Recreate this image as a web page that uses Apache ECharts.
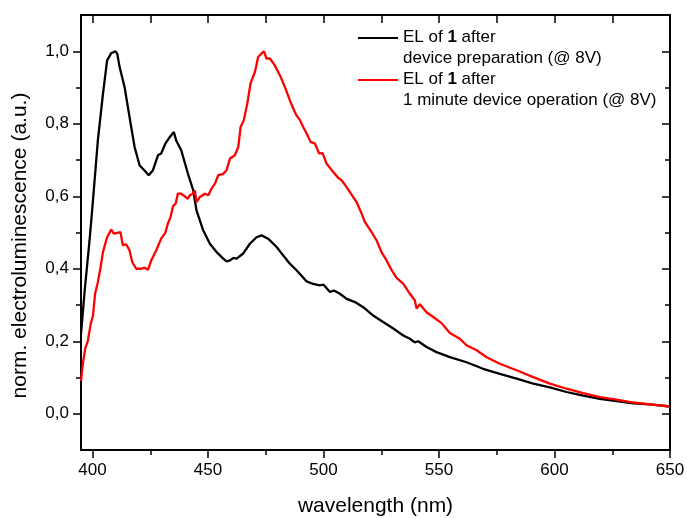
<!DOCTYPE html>
<html>
<head>
<meta charset="utf-8">
<script src="https://cdn.jsdelivr.net/npm/echarts@6/dist/echarts.min.js"></script>
<style>
  html, body { margin: 0; padding: 0; background: #fff; }
  #chart { width: 687px; height: 518px; }
</style>
</head>
<body>
<div id="chart"></div>
<script>
// wavelength (nm) / normalised EL
const blackWl = [395, 396.6, 398.7, 400.2, 402.3, 404.5, 406.3, 408.1, 410, 410.7, 411.7, 413.9, 416, 418.2, 420.4, 422.5, 424.3, 426.1, 428.3, 429.7, 431.5, 433.4, 435.2, 436.2, 438.4, 441.3, 443.6, 445, 447.9, 450.8, 453.7, 456.6, 458, 459.5, 461, 462.4, 465.2, 468.1, 471, 473.2, 476, 479.7, 482.5, 485.4, 488.3, 490, 492.7, 495.5, 498.4, 500, 502.8, 504.5, 507.1, 510, 513.6, 517.2, 521.5, 525.8, 530.2, 534.5, 537.4, 539.5, 541, 544.6, 548.9, 554.7, 561.9, 569.1, 576.3, 583.6, 590.8, 598, 605.2, 612.4, 619.6, 626.9, 634.1, 641.3, 650];
const blackEl = [0.22, 0.34, 0.478, 0.59, 0.754, 0.882, 0.975, 0.995, 1.0, 0.993, 0.957, 0.9, 0.819, 0.736, 0.685, 0.671, 0.658, 0.671, 0.713, 0.718, 0.745, 0.763, 0.777, 0.754, 0.727, 0.662, 0.616, 0.561, 0.506, 0.469, 0.446, 0.428, 0.42, 0.423, 0.43, 0.428, 0.442, 0.469, 0.487, 0.492, 0.483, 0.46, 0.437, 0.414, 0.396, 0.384, 0.365, 0.358, 0.354, 0.356, 0.336, 0.34, 0.331, 0.317, 0.308, 0.294, 0.271, 0.253, 0.235, 0.216, 0.207, 0.197, 0.2, 0.184, 0.17, 0.156, 0.142, 0.124, 0.11, 0.097, 0.083, 0.073, 0.06, 0.05, 0.041, 0.035, 0.029, 0.026, 0.02];

const redWl = [395, 395.8, 396.8, 398, 399.2, 400.2, 401.1, 402.3, 403.5, 404.5, 405.2, 406.3, 408.1, 409.2, 412.1, 413.1, 414.6, 416, 417.2, 418.9, 421.1, 422.5, 424, 425.4, 427.6, 429.7, 431.5, 432.6, 433.8, 434.8, 436, 436.9, 438.4, 441.3, 442.1, 443.4, 444.3, 445, 446.5, 448.6, 450.1, 451.5, 453, 454.4, 456.6, 458, 459.5, 461.6, 463.1, 464.1, 465.5, 467, 468.4, 470.3, 471.7, 473.2, 474.2, 475.3, 476.8, 478.9, 481.1, 483.3, 485.4, 486.9, 488.3, 489.8, 491.2, 492.7, 494.4, 496.3, 498.1, 499.6, 501.3, 504.2, 506.3, 507.8, 510, 512.1, 514.3, 516.5, 517.9, 520.8, 523, 525.1, 527.3, 529.5, 531.6, 534.5, 537.4, 539.5, 540.3, 541.7, 544.6, 547.5, 551.1, 554.7, 559, 561.9, 566.3, 570.6, 576.3, 583.6, 590.8, 598, 605.2, 612.4, 619.6, 626.9, 634.1, 641.3, 650];
const redEl = [0.09, 0.138, 0.179, 0.202, 0.248, 0.271, 0.331, 0.363, 0.405, 0.446, 0.451, 0.487, 0.508, 0.497, 0.501, 0.465, 0.467, 0.451, 0.418, 0.4, 0.4, 0.403, 0.397, 0.423, 0.451, 0.483, 0.499, 0.524, 0.543, 0.572, 0.58, 0.607, 0.607, 0.593, 0.603, 0.607, 0.616, 0.584, 0.598, 0.607, 0.603, 0.621, 0.635, 0.658, 0.662, 0.672, 0.704, 0.713, 0.736, 0.791, 0.81, 0.856, 0.911, 0.943, 0.984, 0.994, 1.0, 0.98, 0.98, 0.961, 0.934, 0.901, 0.865, 0.842, 0.823, 0.81, 0.791, 0.773, 0.75, 0.745, 0.718, 0.719, 0.69, 0.667, 0.651, 0.644, 0.625, 0.605, 0.584, 0.552, 0.529, 0.501, 0.478, 0.446, 0.423, 0.396, 0.375, 0.359, 0.331, 0.313, 0.29, 0.302, 0.28, 0.267, 0.25, 0.223, 0.207, 0.189, 0.175, 0.156, 0.138, 0.12, 0.101, 0.083, 0.069, 0.057, 0.046, 0.039, 0.031, 0.026, 0.02];

const xMajor = [400, 450, 500, 550, 600, 650];
const xMinor = [425, 475, 525, 575, 625];
const xTop = [400, 425, 450, 475, 500, 525, 550, 575, 600, 625, 650];
const yMajor = [0, 0.2, 0.4, 0.6, 0.8, 1.0];
const yMinor = [0.1, 0.3, 0.5, 0.7, 0.9];

const seriesNames = ['EL of 1 after device preparation (@ 8V)', 'EL of 1 after 1 minute device operation (@ 8V)'];
const legendLabels = ['EL of {b|1} after\ndevice preparation (@ 8V)', 'EL of {b|1} after\n1 minute device operation (@ 8V)'];

const font = "'Liberation Sans', Arial, sans-serif";
const zip = (a, b) => a.map((v, i) => [v, b[i]]);

const chart = echarts.init(document.getElementById('chart'));

const frameLine = { show: true, onZero: false, lineStyle: { color: '#000', width: 2 } };

function xAx(pos, ticks, len, inside, extra) {
  return Object.assign({
    type: 'value', position: pos, min: 395, max: 650,
    axisLine: { show: false, onZero: false },
    axisTick: { show: true, customValues: ticks, length: len, inside: inside, lineStyle: { color: '#000', width: 1.5 } },
    axisLabel: { show: false },
    splitLine: { show: false }
  }, extra || {});
}
function yAx(pos, ticks, len, inside, extra) {
  return Object.assign({
    type: 'value', position: pos, min: -0.1, max: 1.1,
    axisLine: { show: false, onZero: false },
    axisTick: { show: true, customValues: ticks, length: len, inside: inside, lineStyle: { color: '#000', width: 1.5 } },
    axisLabel: { show: false },
    splitLine: { show: false }
  }, extra || {});
}

const option = {
  animation: false,
  backgroundColor: '#fff',
  textStyle: { fontFamily: font, color: '#000' },
  grid: { left: 81, right: 17, top: 15, bottom: 68, outerBoundsMode: 'none' },
  legend: {
    orient: 'vertical', left: 358, top: 27, padding: 0,
    itemWidth: 40, itemHeight: 22, itemGap: 0,
    icon: 'path://M0,0h40v2h-40z M0,21.8h0.01v0.01z',
    itemStyle: { borderWidth: 0 },
    data: seriesNames,
    formatter: name => legendLabels[seriesNames.indexOf(name)],
    textStyle: {
      fontFamily: font, fontSize: 17, lineHeight: 21, color: '#000',
      rich: { b: { fontFamily: font, fontSize: 17, lineHeight: 21, fontWeight: 'bold', color: '#000' } }
    }
  },
  xAxis: [
    xAx('bottom', xMajor, 8, false, {
      axisLine: frameLine,
      axisLabel: { show: true, customValues: xMajor, margin: 12, fontSize: 17, color: '#000', fontFamily: font },
      name: 'wavelength (nm)', nameLocation: 'middle', nameGap: 46,
      nameTextStyle: { fontSize: 21, color: '#000', fontFamily: font }
    }),
    xAx('bottom', xMinor, 5, false),
    xAx('top', xTop, 8, true, { axisLine: frameLine })
  ],
  yAxis: [
    yAx('left', yMajor, 8, false, {
      axisLine: frameLine,
      axisLabel: {
        show: true, customValues: yMajor, margin: 12, fontSize: 17, color: '#000', fontFamily: font,
        formatter: v => v.toFixed(1).replace('.', ',')
      },
      name: 'norm. electroluminescence (a.u.)', nameLocation: 'middle', nameGap: 50,
      nameTextStyle: { fontSize: 21, color: '#000', fontFamily: font, padding: [0, 26, 0, 0] }
    }),
    yAx('left', yMinor, 5, false),
    yAx('right', yMajor, 8, true, { axisLine: frameLine }),
    yAx('right', yMinor, 5, true)
  ],
  series: [
    {
      name: seriesNames[0], type: 'line', xAxisIndex: 0, yAxisIndex: 0,
      data: zip(blackWl, blackEl), showSymbol: false, symbol: 'none',
      color: '#000', lineStyle: { color: '#000', width: 2.3 }
    },
    {
      name: seriesNames[1], type: 'line', xAxisIndex: 0, yAxisIndex: 0,
      data: zip(redWl, redEl), showSymbol: false, symbol: 'none',
      color: '#ff0000', lineStyle: { color: '#ff0000', width: 2.3 }
    }
  ]
};

chart.setOption(option);
</script>
</body>
</html>
